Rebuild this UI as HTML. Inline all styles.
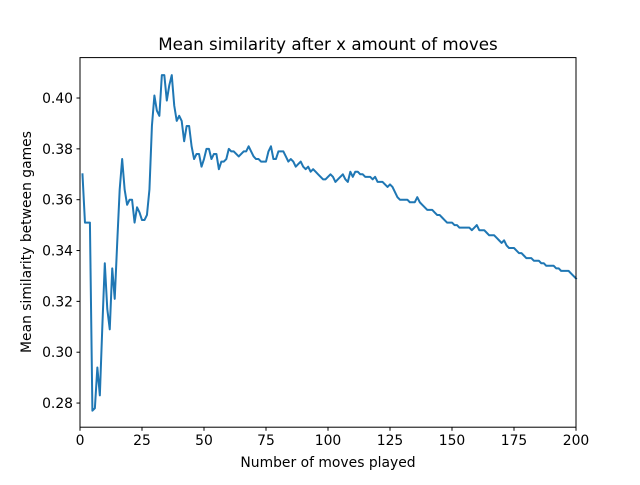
<!DOCTYPE html>
<html><head><meta charset="utf-8"><style>
body{margin:0;background:#fff}
svg text{font-family:"DejaVu Sans","Liberation Sans",sans-serif;fill:#000}
</style></head><body>
<svg id="chart" width="640" height="480" xmlns="http://www.w3.org/2000/svg">
<rect width="640" height="480" fill="#fff"/>
<text x="328" y="50" font-size="16.7" text-anchor="middle">Mean similarity after x amount of moves</text>
<path id="line" fill="none" stroke="#1f77b4" stroke-width="2" stroke-linejoin="round" stroke-linecap="square"/>
<rect x="80" y="57.6" width="496" height="369.6" fill="none" stroke="#000" stroke-width="1"/>
<g id="xticks"></g><g id="yticks"></g>
<text x="328" y="467" font-size="13.9" text-anchor="middle">Number of moves played</text>
<text transform="translate(31,242) rotate(-90)" font-size="13.9" text-anchor="middle">Mean similarity between games</text>
</svg>
<script>
const startMove = 1;
const similarity = [
0.370,0.351,0.351,0.351,0.277,0.278,0.294,0.283,0.310,0.335,0.317,0.309,0.333,0.321,0.343,0.364,0.376,0.364,0.358,0.360,
0.360,0.351,0.357,0.355,0.352,0.352,0.354,0.364,0.389,0.401,0.395,0.393,0.409,0.409,0.399,0.405,0.409,0.397,0.391,0.393,
0.391,0.383,0.389,0.389,0.381,0.376,0.378,0.378,0.373,0.376,0.380,0.380,0.376,0.378,0.378,0.372,0.375,0.375,0.376,0.380,
0.379,0.379,0.378,0.377,0.378,0.379,0.379,0.381,0.379,0.377,0.376,0.376,0.375,0.375,0.375,0.379,0.381,0.376,0.376,0.379,
0.379,0.379,0.377,0.375,0.376,0.375,0.373,0.374,0.375,0.373,0.372,0.373,0.371,0.372,0.371,0.370,0.369,0.368,0.368,0.369,
0.370,0.369,0.367,0.368,0.369,0.370,0.368,0.367,0.371,0.369,0.371,0.371,0.370,0.370,0.369,0.369,0.369,0.368,0.369,0.367,
0.367,0.367,0.366,0.365,0.366,0.365,0.363,0.361,0.360,0.360,0.360,0.360,0.359,0.359,0.359,0.361,0.359,0.358,0.357,0.356,
0.356,0.356,0.355,0.354,0.354,0.353,0.352,0.351,0.351,0.351,0.350,0.350,0.349,0.349,0.349,0.349,0.349,0.348,0.349,0.350,
0.348,0.348,0.348,0.347,0.346,0.346,0.346,0.345,0.344,0.343,0.344,0.342,0.341,0.341,0.341,0.340,0.339,0.339,0.338,0.337,
0.337,0.337,0.336,0.336,0.336,0.335,0.335,0.334,0.334,0.334,0.334,0.333,0.333,0.332,0.332,0.332,0.332,0.331,0.330,0.329];
const xTicks = [0,25,50,75,100,125,150,175,200];
const yTicks = [0.28,0.30,0.32,0.34,0.36,0.38,0.40];
const xMin=0,xMax=200,yMin=0.2705,yMax=0.4159;
const L=80,R=576,T=57.6,B=427.2;
const sx=v=>L+(v-xMin)/(xMax-xMin)*(R-L);
const sy=v=>B-(v-yMin)/(yMax-yMin)*(B-T);
const NS="http://www.w3.org/2000/svg";
let d="";
similarity.forEach((v,i)=>{d+=(i?"L":"M")+sx(startMove+i).toFixed(2)+","+sy(v).toFixed(2);});
document.getElementById("line").setAttribute("d",d);
const xg=document.getElementById("xticks"),yg=document.getElementById("yticks");
xTicks.forEach(t=>{
 const l=document.createElementNS(NS,"line");
 
 
 l.setAttribute("x1",sx(t));l.setAttribute("x2",sx(t));l.setAttribute("y1",B);l.setAttribute("y2",B+3.5);l.setAttribute("stroke","#000");
 xg.appendChild(l);
 const tx=document.createElementNS(NS,"text");
 
 
 tx.setAttribute("x",sx(t));tx.setAttribute("y",B+18);tx.setAttribute("font-size","13.9");tx.setAttribute("text-anchor","middle");
 tx.textContent=t;xg.appendChild(tx);
});
yTicks.forEach(t=>{
 const l=document.createElementNS(NS,"line");
 
 
 l.setAttribute("x1",L-3.5);l.setAttribute("x2",L);l.setAttribute("y1",sy(t));l.setAttribute("y2",sy(t));l.setAttribute("stroke","#000");
 yg.appendChild(l);
 const tx=document.createElementNS(NS,"text");
 
 
 tx.setAttribute("x",L-7);tx.setAttribute("y",sy(t)+5);tx.setAttribute("font-size","13.9");tx.setAttribute("text-anchor","end");
 tx.textContent=t.toFixed(2);yg.appendChild(tx);
});
</script>
</body></html>
